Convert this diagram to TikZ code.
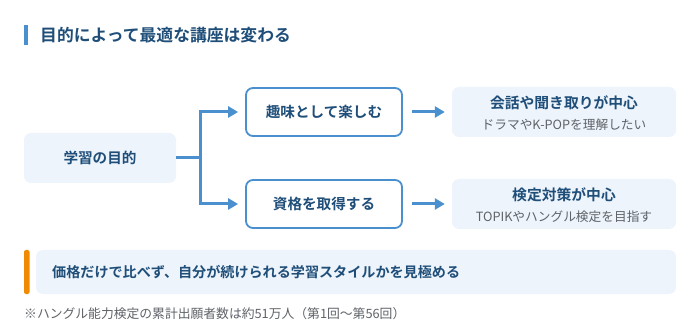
\documentclass[tikz,border=0pt]{standalone}
\usepackage{fontspec}
\setmainfont{Noto Sans CJK JP}
\newfontfamily\jpb{Noto Sans CJK JP Bold}
\usetikzlibrary{arrows.meta,calc}
\definecolor{navy}{HTML}{1F4E79}
\definecolor{bluel}{HTML}{4A90CE}
\definecolor{pale}{HTML}{EDF4FB}
\definecolor{greyt}{HTML}{5F6368}
\definecolor{orng}{HTML}{F08A00}
\tikzset{
  palebox/.style={fill=pale,rounded corners=7pt,inner sep=0pt},
  outbox/.style={draw=bluel,line width=1.8pt,fill=white,rounded corners=7pt,inner sep=0pt,minimum width=156pt,minimum height=48pt,font=\jpb\fontsize{14.6}{17}\selectfont,text=navy},
  conn/.style={draw=bluel,line width=3pt},
  arr/.style={conn,-{Triangle[length=10pt,width=11pt]}},
  ttl/.style={font=\jpb\fontsize{14.8}{17}\selectfont,text=navy,inner sep=0pt},
  sub/.style={font=\fontsize{12.7}{15}\selectfont,text=greyt,inner sep=0pt}
}
\begin{document}
\begin{tikzpicture}[x=1pt,y=-1pt]
\useasboundingbox[fill=white] (0,0) rectangle (700,328);
% title
\fill[bluel] (24,25) rectangle (28,45);
\node[anchor=west,inner sep=0pt,font=\jpb\fontsize{16.8}{19}\selectfont,text=navy] (title) at (40,35.5) {目的によって最適な講座は変わる};
% left box
\node[palebox,minimum width=152pt,minimum height=50pt,font=\jpb\fontsize{14.6}{17}\selectfont,text=navy] (L) at (100,158) {学習の目的};
% middle boxes
\node[outbox] (A) at (324,112) {趣味として楽しむ};
\node[outbox] (B) at (324,204) {資格を取得する};
% right boxes
\node[palebox,minimum width=224pt,minimum height=50pt] (C) at (564,112) {};
\node[ttl] (Ct) at (564,103) {会話や聞き取りが中心};
\node[sub] (Cs) at (564,125) {ドラマやK-POPを理解したい};
\node[palebox,minimum width=224pt,minimum height=50pt] (D) at (564,204) {};
\node[ttl] (Dt) at (564,195) {検定対策が中心};
\node[sub] (Ds) at (564,217) {TOPIKやハングル検定を目指す};
% connectors
\coordinate (j) at (200,158);
\draw[conn] (L.east) -- (j);
\draw[arr] (j) |- ([xshift=-7pt]A.west);
\draw[arr] (j) |- ([xshift=-7pt]B.west);
\draw[arr] ([xshift=9pt]A.east) -- ([xshift=-7pt]C.west);
\draw[arr] ([xshift=9pt]B.east) -- ([xshift=-7pt]D.west);
% bottom note
\node[palebox,minimum width=640pt,minimum height=44pt] (E) at (356,272) {};
\fill[orng,rounded corners=2pt] (24,250) rectangle (29.5,294);
\node[anchor=west,inner sep=0pt,font=\jpb\fontsize{14.1}{17}\selectfont,text=navy] (Et) at (52,272) {価格だけで比べず、自分が続けられる学習スタイルかを見極める};
\node[anchor=west,inner sep=0pt,font=\fontsize{12.8}{15}\selectfont,text=greyt] (F) at (24,314) {※ハングル能力検定の累計出願者数は約51万人（第1回〜第56回）};
\end{tikzpicture}
\end{document}
